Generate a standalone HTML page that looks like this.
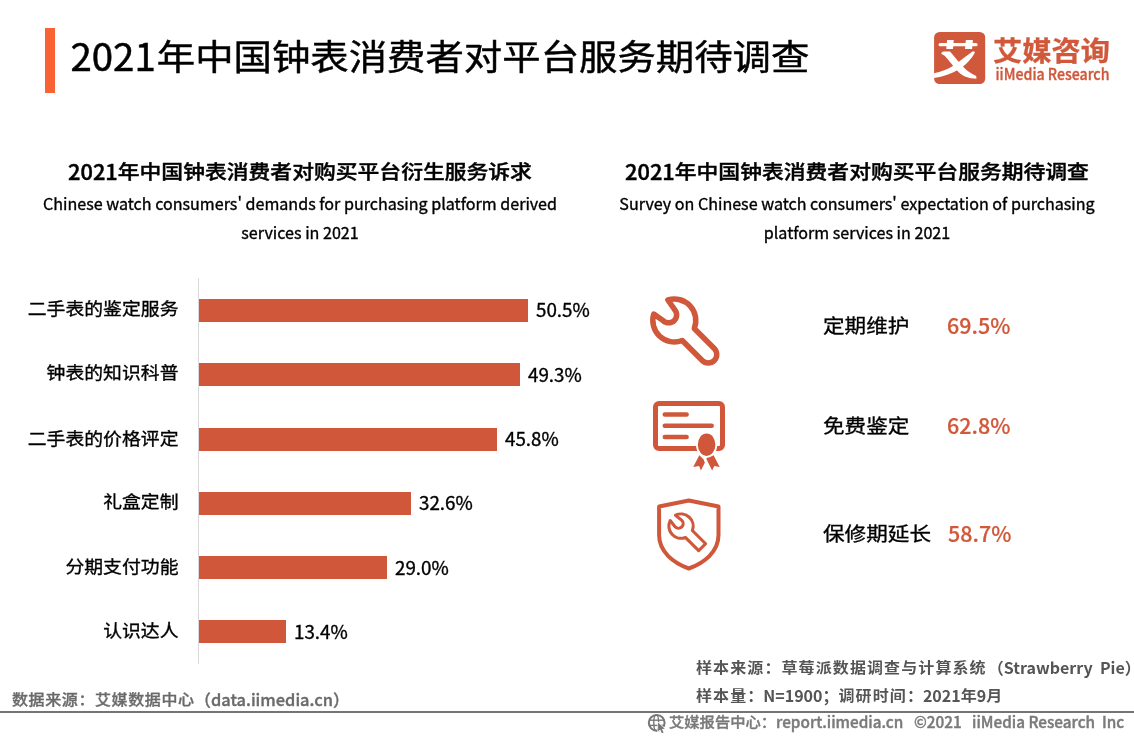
<!DOCTYPE html>
<html lang="zh-CN">
<head>
<meta charset="utf-8">
<title>2021年中国钟表消费者对平台服务期待调查</title>
<style>
*{margin:0;padding:0;box-sizing:border-box}
html,body{width:1134px;height:737px;overflow:hidden;background:#fff}
body{position:relative;font-family:"Noto Sans CJK SC","Liberation Sans","Noto Sans CJK JP",sans-serif;color:#000;-webkit-text-stroke:0.35px currentColor}
.a{position:absolute;white-space:nowrap;line-height:1}
.c{display:inline-block;transform:scaleY(.91);transform-origin:50% 55%}
#accent{left:45px;top:28px;width:10px;height:65px;background:#f96232}
#title{left:70.5px;top:35px;font-size:38.4px;font-weight:400;-webkit-text-stroke:0.5px #000}
.sub{font-size:21.8px;font-weight:500;-webkit-text-stroke:0.45px #000;text-align:center;width:560px}
.en{font-size:16.1px;text-align:center;width:560px;line-height:29px}
.lbl{font-size:18.85px;text-align:right;width:178.5px;left:0;margin-top:-2.5px}
.lbl .c{transform:scaleY(.93)}
.bar{position:absolute;left:199px;height:23px;background:#d0573a}
.val{font-size:18.8px}
#axis{position:absolute;left:198px;top:278px;width:1px;height:386px;background:#d9d9d9}
.rl{font-size:21.6px;margin-top:-0.6px}
.rv{font-size:21.5px;color:#d25839;font-weight:500;margin-top:-1px;-webkit-text-stroke:0.2px #d25839}
.ft{font-size:16px;font-weight:700;color:#555;-webkit-text-stroke:0}
.ls{letter-spacing:1.1px}
.ls2{letter-spacing:0.6px}
.ft .c,#src .c,.cp .c{transform:scaleY(.9)}
#src{left:12px;top:690.5px;font-size:16px;font-weight:500;color:#6a6a6a;-webkit-text-stroke:0.35px #6a6a6a}
#hr{position:absolute;left:0;top:710.5px;width:1134px;height:2px;background:#747474}
.cp{top:714px;font-size:15.3px;font-weight:500;color:#7a7a7a;-webkit-text-stroke:0.4px #7a7a7a}
</style>
</head>
<body>
<div id="accent" class="a"></div>
<div id="title" class="a">2021<span class="c" style="margin-left:1px">年中国钟表消费者对平台服务期待调查</span></div>

<!-- logo -->
<svg class="a" style="left:930px;top:28px" width="190" height="60" viewBox="930 28 190 60">
  <rect x="934.1" y="31.9" width="51.1" height="52.1" rx="5.5" fill="#d0583b"/>
  <g transform="translate(930 28) scale(0.08143)" fill="#fff">
    <rect x="105" y="185" width="480" height="40" rx="20"/>
    <polygon points="210,148 292,148 282,258 200,258"/>
    <polygon points="440,148 527,148 517,258 430,258"/>
    <path d="M520 288 C545 286 556 292 548 306 C510 380 440 450 360 505 C270 565 160 600 50 615 L50 555 C150 535 240 500 300 455 C380 395 450 340 520 288 Z"/>
    <path d="M140 318 C140 300 150 292 170 290 L245 290 C300 350 350 420 410 480 C460 530 510 570 568 588 L570 622 C480 620 410 600 350 540 C290 480 230 390 180 340 C165 330 150 325 140 318 Z"/>
  </g>
  <text transform="translate(0 50) scale(1 .94) translate(0 -50)" x="993" y="62" font-size="29" font-weight="700" fill="#d0583b" stroke="#d0583b" stroke-width="0.3" font-family="Noto Sans CJK SC" textLength="117" lengthAdjust="spacingAndGlyphs">艾媒咨询</text>
  <text x="995.5" y="80" font-size="15.5" font-weight="500" fill="#d0583b" stroke="#d0583b" stroke-width="0.35" font-family="Noto Sans CJK SC" textLength="114" lengthAdjust="spacingAndGlyphs">iiMedia Research</text>
</svg>

<!-- left subtitle -->
<div class="a sub" style="left:20px;top:160px">2021<span class="c">年中国钟表消费者对购买平台衍生服务诉求</span></div>
<div class="a en" style="left:20px;top:189px">Chinese watch consumers' demands for purchasing platform derived<br>services in 2021</div>

<!-- right subtitle -->
<div class="a sub" style="left:577px;top:160px">2021<span class="c">年中国钟表消费者对购买平台服务期待调查</span></div>
<div class="a en" style="left:577px;top:189px">Survey on Chinese watch consumers' expectation of purchasing<br>platform services in 2021</div>

<!-- bar chart -->
<div id="axis"></div>
<div class="bar" style="top:299px;width:329px"></div>
<div class="bar" style="top:363px;width:321px"></div>
<div class="bar" style="top:428px;width:298px"></div>
<div class="bar" style="top:492px;width:212px"></div>
<div class="bar" style="top:556px;width:188px"></div>
<div class="bar" style="top:620px;width:87px"></div>

<div class="a lbl" style="top:300.5px"><span class="c">二手表的鉴定服务</span></div>
<div class="a lbl" style="top:364.5px"><span class="c">钟表的知识科普</span></div>
<div class="a lbl" style="top:430px"><span class="c">二手表的价格评定</span></div>
<div class="a lbl" style="top:493.5px"><span class="c">礼盒定制</span></div>
<div class="a lbl" style="top:558px"><span class="c">分期支付功能</span></div>
<div class="a lbl" style="top:622.5px"><span class="c">认识达人</span></div>

<div class="a val" style="left:536px;top:300px">50.5%</div>
<div class="a val" style="left:528px;top:365px">49.3%</div>
<div class="a val" style="left:505px;top:429px">45.8%</div>
<div class="a val" style="left:419px;top:493px">32.6%</div>
<div class="a val" style="left:395px;top:558px">29.0%</div>
<div class="a val" style="left:294px;top:622px">13.4%</div>

<!-- right icons -->
<svg class="a" style="left:0;top:0" width="1134" height="737" viewBox="0 0 1134 737">
  <!-- wrench -->
  <g transform="translate(674.3 320.5) rotate(45)" fill="none" stroke="#d0573a" stroke-width="5.5" stroke-linejoin="round">
    <path d="M-19.03 -10 A21.5 21.5 0 0 1 19.75 -8.5 L48 -8.5 A8.5 8.5 0 0 1 48 8.5 L19.75 8.5 A21.5 21.5 0 0 1 -19.03 10 L-8 8 A8 8 0 0 0 -8 -8 Z"/>
  </g>
  <!-- certificate -->
  <g fill="none" stroke="#d0573a">
    <rect x="655.5" y="403.5" width="67" height="45" rx="3.5" stroke-width="5"/>
    <g stroke-width="4.5" stroke-linecap="round">
      <line x1="664.8" y1="414.4" x2="686.6" y2="414.4"/>
      <line x1="664.8" y1="425.7" x2="711.7" y2="425.7"/>
      <line x1="664.8" y1="437" x2="686.6" y2="437"/>
    </g>
  </g>
  <g fill="#d0573a">
    <polygon points="699.3,455.3 703.7,459.4 704.8,462.7 700.9,470.6 699.1,466 693.2,467"/>
    <polygon points="713.6,455.3 719.7,467 714.3,466 712.1,470.6 706.3,458.8 708,456.5"/>
  </g>
  <ellipse cx="706.6" cy="444.7" rx="10.6" ry="13" fill="#fff"/>
  <ellipse cx="706.6" cy="444.7" rx="8.8" ry="11.2" fill="#d0573a"/>
  <!-- shield -->
  <path d="M688.8 500.5 L718.5 506.5 L718.5 535 C718.5 552 704 563 688.8 568.5 C673.6 563 659.1 552 659.1 535 L659.1 506.5 Z" fill="none" stroke="#d0573a" stroke-width="4" stroke-linejoin="round"/>
  <g transform="translate(681 526.1) rotate(45) scale(0.58)" fill="none" stroke="#d0573a" stroke-width="5.4" stroke-linejoin="round">
    <path d="M-19.9 -6.5 A21 21 0 0 1 19.2 -8.5 L51.5 -8.5 L51.5 8.5 L19.2 8.5 A21 21 0 0 1 -19.9 6.5 L-6 8 A8 8 0 0 0 -6 -8 Z"/>
  </g>
</svg>

<div class="a rl" style="left:823px;top:315px"><span class="c">定期维护</span></div>
<div class="a rv" style="left:947px;top:315px">69.5%</div>
<div class="a rl" style="left:823px;top:415px"><span class="c">免费鉴定</span></div>
<div class="a rv" style="left:947px;top:415px">62.8%</div>
<div class="a rl" style="left:823px;top:523px"><span class="c">保修期延长</span></div>
<div class="a rv" style="left:948px;top:523px">58.7%</div>

<!-- footer -->
<div class="a ft" style="left:696px;top:659px"><span class="c ls">样本来源：草莓派数据调查与计算系统</span><span style="margin-left:1px">（</span>Strawberry&nbsp; Pie）</div>
<div class="a ft" style="left:696px;top:686.5px"><span class="c ls">样本量</span>：N=1900；<span class="c ls">调研时间</span>：2021<span class="c">年</span>9<span class="c">月</span></div>
<div id="src" class="a"><span class="c ls2">数据来源：艾媒数据中心</span><span style="font-size:16.4px;vertical-align:0.5px">（data.iimedia.cn）</span></div>
<div id="hr"></div>
<svg class="a" style="left:643px;top:711px" width="30" height="24" viewBox="643 711 30 24">
  <g fill="none" stroke="#767676">
    <circle cx="656.7" cy="722.8" r="7.9" stroke-width="2"/>
    <ellipse cx="656.2" cy="722.8" rx="2.4" ry="7.9" stroke-width="1.4"/>
    <line x1="649" y1="720.2" x2="664.5" y2="720.2" stroke-width="1.4"/>
    <line x1="649" y1="725.4" x2="664.5" y2="725.4" stroke-width="1.4"/>
  </g>
  <path d="M658.1 722.6 L658.1 731.4 L660.2 729.6 L661.9 733.2 L663.6 732.4 L661.9 728.9 L664.8 728.7 Z" fill="#767676" stroke="#fff" stroke-width="1.3" stroke-linejoin="round" paint-order="stroke"/>
</svg>
<div class="a cp" style="left:669px"><span class="c">艾媒报告中心：</span>report.iimedia.cn</div>
<div class="a cp" style="left:914px">©2021</div>
<div class="a cp" style="left:972px">iiMedia Research</div>
<div class="a cp" style="left:1102px">Inc</div>
</body>
</html>
